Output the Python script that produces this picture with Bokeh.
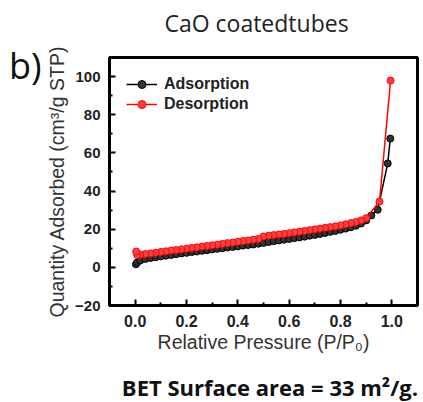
from bokeh.plotting import figure
from bokeh.models import Legend, LegendItem, NumeralTickFormatter, FixedTicker, Div
from bokeh.layouts import row, column
from bokeh.embed import file_html
from bokeh.resources import INLINE

ads_x = [0.003, 0.008, 0.02, 0.04, 0.06, 0.08, 0.10, 0.12, 0.14, 0.16, 0.18, 0.20,
         0.22, 0.24, 0.26, 0.28, 0.30, 0.32, 0.34, 0.36, 0.38, 0.40, 0.42, 0.44,
         0.46, 0.48, 0.50, 0.52, 0.54, 0.56, 0.58, 0.60, 0.62, 0.64, 0.66, 0.68,
         0.70, 0.72, 0.74, 0.76, 0.78, 0.80, 0.82, 0.84, 0.86, 0.88, 0.90, 0.92,
         0.945, 0.984, 0.994]
ads_y = [1.6, 2.6, 3.6, 4.4, 4.9, 5.3, 5.7, 6.1, 6.5, 6.9, 7.3, 7.6,
         8.0, 8.3, 8.7, 9.0, 9.4, 9.7, 10.0, 10.4, 10.7, 11.0, 11.4, 11.7,
         12.0, 12.4, 12.8, 13.3, 13.7, 14.1, 14.5, 14.9, 15.3, 15.7, 16.1, 16.6,
         17.0, 17.5, 18.0, 18.6, 19.1, 19.7, 20.3, 21.0, 21.8, 23.0, 24.6, 27.2,
         30.2, 54.5, 67.5]

des_x = [0.995, 0.952, 0.90, 0.88, 0.86, 0.84, 0.82, 0.80, 0.78, 0.76, 0.74, 0.72,
         0.70, 0.68, 0.66, 0.64, 0.62, 0.60, 0.58, 0.56, 0.54, 0.52, 0.50, 0.48,
         0.46, 0.44, 0.42, 0.40, 0.38, 0.36, 0.34, 0.32, 0.30, 0.28, 0.26, 0.24,
         0.22, 0.20, 0.18, 0.16, 0.14, 0.12, 0.10, 0.08, 0.06, 0.04, 0.02, 0.008,
         0.004]
des_y = [97.9, 34.5, 25.8, 24.6, 23.8, 23.2, 22.6, 22.0, 21.5, 21.1, 20.7, 20.3,
         19.9, 19.5, 19.1, 18.7, 18.3, 17.9, 17.5, 17.2, 16.9, 16.6, 16.2, 14.9,
         14.5, 14.1, 13.8, 13.4, 13.0, 12.7, 12.3, 11.9, 11.6, 11.2, 10.9, 10.5,
         10.2, 9.8, 9.5, 9.1, 8.8, 8.4, 8.1, 7.7, 7.3, 7.0, 6.7, 6.5,
         8.3]

x_ticks = [0.0, 0.2, 0.4, 0.6, 0.8, 1.0]
x_minor = [-0.1, 0.1, 0.3, 0.5, 0.7, 0.9, 1.1]
y_ticks = [-20, 0, 20, 40, 60, 80, 100]
y_minor = [-10, 10, 30, 50, 70, 90, 110]

title_text = "CaO coatedtubes"
panel_text = "b)"
bet_text = "BET Surface area = 33 m²/g."

p = figure(width=380, height=329, output_backend="svg", toolbar_location=None,
           x_range=(-0.1, 1.1), y_range=(-20, 110),
           min_border_left=69, min_border_right=3, min_border_top=21,
           min_border_bottom=60)

p.outline_line_color = "black"
p.outline_line_width = 3
p.xgrid.visible = False
p.ygrid.visible = False

for ax in (p.xaxis[0], p.yaxis[0]):
    ax.axis_line_color = None
    ax.major_tick_in = 6
    ax.major_tick_out = 0
    ax.minor_tick_in = 3
    ax.minor_tick_out = 0
    ax.major_tick_line_width = 2
    ax.minor_tick_line_width = 2
    ax.major_label_text_font = "Liberation Sans"
    ax.major_label_text_font_style = "bold"
    ax.major_label_text_font_size = "15px"
    ax.major_label_text_color = "#222222"
    ax.axis_label_text_font = "Liberation Sans"
    ax.axis_label_text_font_style = "normal"
    ax.axis_label_text_font_size = "19.5px"
    ax.axis_label_text_color = "#333333"

p.xaxis.major_label_text_font_size = "16px"
p.xaxis.ticker = FixedTicker(ticks=x_ticks, minor_ticks=x_minor)
p.yaxis.ticker = FixedTicker(ticks=y_ticks, minor_ticks=y_minor)
p.xaxis.formatter = NumeralTickFormatter(format="0.0")
p.xaxis.major_label_standoff = 9
p.yaxis.major_label_standoff = 9
p.xaxis.axis_label = "Relative Pressure (P/P\u2080)"
p.yaxis.axis_label = "Quantity Adsorbed (cm\u00b3/g STP)"
p.xaxis.axis_label_standoff = 1
p.yaxis.axis_label_standoff = 4

l1 = p.line(ads_x, ads_y, line_color="black", line_width=1.5)
s1 = p.scatter(ads_x, ads_y, marker="circle", size=7, fill_color="#333333",
               line_color="black", line_width=1)
l2 = p.line(des_x, des_y, line_color="red", line_width=1.5)
s2 = p.scatter(des_x, des_y, marker="circle", size=7, fill_color="#ff4040",
               line_color="red", line_width=1)

legend = Legend(items=[LegendItem(label="Adsorption", renderers=[l1, s1]),
                       LegendItem(label="Desorption", renderers=[l2, s2])],
                location="top_left", margin=17, padding=0, spacing=0,
                glyph_width=31, glyph_height=20, label_height=20,
                label_standoff=7, border_line_color=None,
                background_fill_alpha=0,
                label_text_font="Liberation Sans", label_text_font_size="16px",
                label_text_font_style="bold", label_text_color="#222222")
p.add_layout(legend)

title_div = Div(text=('<div style="width:423px;height:36px;text-align:center;'
                      'font-family:\'Open Sans\';font-size:23px;line-height:26px;'
                      'padding-top:10px;padding-left:90px;box-sizing:border-box;'
                      'color:#222222;white-space:nowrap">' + title_text + '</div>'),
                width=423, height=36, margin=0)

panel_div = Div(text=('<div style="font-family:\'Open Sans\';font-size:36px;'
                      'line-height:36px;padding-top:12px;padding-left:9px;'
                      'color:#111111">' + panel_text + '</div>'),
                width=40, height=329, margin=0)

bet_div = Div(text=('<div style="width:423px;height:34px;text-align:right;'
                    'font-family:\'Open Sans\';font-size:22px;font-weight:bold;'
                    'line-height:24px;padding-top:10px;padding-right:5px;'
                    'box-sizing:border-box;color:#111111;white-space:nowrap">'
                    + bet_text + '</div>'),
              width=423, height=34, margin=0)

layout = column(title_div, row(panel_div, p, spacing=0), bet_div, spacing=0)

open("out.html", "w").write(file_html(layout, INLINE))
